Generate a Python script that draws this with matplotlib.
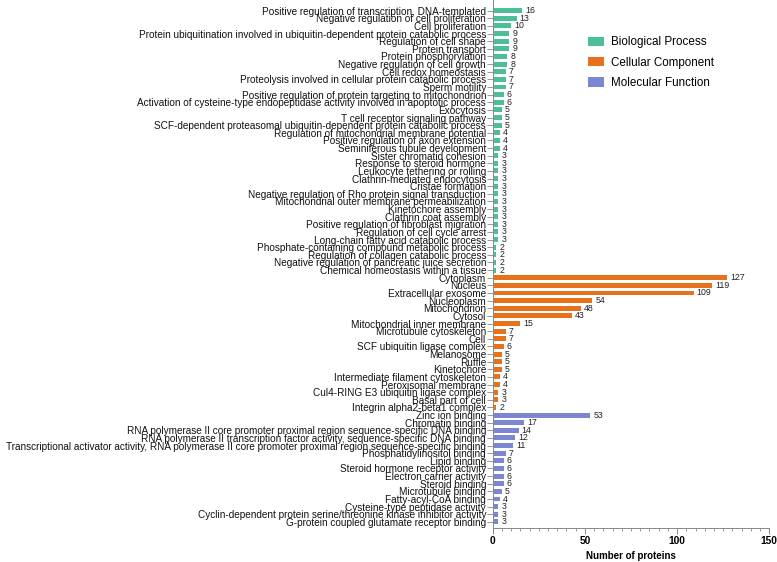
import matplotlib
matplotlib.use("Agg")
import matplotlib.pyplot as plt
from matplotlib.patches import Patch
from matplotlib.ticker import MultipleLocator

plt.rcParams['font.family'] = ['Liberation Sans', 'DejaVu Sans']

bp_terms = [
    "Positive regulation of transcription, DNA-templated",
    "Negative regulation of cell proliferation",
    "Cell proliferation",
    "Protein ubiquitination involved in ubiquitin-dependent protein catabolic process",
    "Regulation of cell shape",
    "Protein transport",
    "Protein phosphorylation",
    "Negative regulation of cell growth",
    "Cell redox homeostasis",
    "Proteolysis involved in cellular protein catabolic process",
    "Sperm motility",
    "Positive regulation of protein targeting to mitochondrion",
    "Activation of cysteine-type endopeptidase activity involved in apoptotic process",
    "Exocytosis",
    "T cell receptor signaling pathway",
    "SCF-dependent proteasomal ubiquitin-dependent protein catabolic process",
    "Regulation of mitochondrial membrane potential",
    "Positive regulation of axon extension",
    "Seminiferous tubule development",
    "Sister chromatid cohesion",
    "Response to steroid hormone",
    "Leukocyte tethering or rolling",
    "Clathrin-mediated endocytosis",
    "Cristae formation",
    "Negative regulation of Rho protein signal transduction",
    "Mitochondrial outer membrane permeabilization",
    "Kinetochore assembly",
    "Clathrin coat assembly",
    "Positive regulation of fibroblast migration",
    "Regulation of cell cycle arrest",
    "Long-chain fatty acid catabolic process",
    "Phosphate-containing compound metabolic process",
    "Regulation of collagen catabolic process",
    "Negative regulation of pancreatic juice secretion",
    "Chemical homeostasis within a tissue",
]
bp_counts = [16, 13, 10, 9, 9, 9, 8, 8, 7, 7, 7, 6, 6, 5, 5, 5, 4, 4, 4,
             3, 3, 3, 3, 3, 3, 3, 3, 3, 3, 3, 3, 2, 2, 2, 2]

cc_terms = [
    "Cytoplasm", "Nucleus", "Extracellular exosome", "Nucleoplasm",
    "Mitochondrion", "Cytosol", "Mitochondrial inner membrane",
    "Microtubule cytoskeleton", "Cell", "SCF ubiquitin ligase complex",
    "Melanosome", "Ruffle", "Kinetochore", "Intermediate filament cytoskeleton",
    "Peroxisomal membrane", "Cul4-RING E3 ubiquitin ligase complex",
    "Basal part of cell", "Integrin alpha2-beta1 complex",
]
cc_counts = [127, 119, 109, 54, 48, 43, 15, 7, 7, 6, 5, 5, 5, 4, 4, 3, 3, 2]

mf_terms = [
    "Zinc ion binding",
    "Chromatin binding",
    "RNA polymerase II core promoter proximal region sequence-specific DNA binding",
    "RNA polymerase II transcription factor activity, sequence-specific DNA binding",
    "Transcriptional activator activity, RNA polymerase II core promoter proximal region sequence-specific binding",
    "Phosphatidylinositol binding",
    "Lipid binding",
    "Steroid hormone receptor activity",
    "Electron carrier activity",
    "Steroid binding",
    "Microtubule binding",
    "Fatty-acyl-CoA binding",
    "Cysteine-type peptidase activity",
    "Cyclin-dependent protein serine/threonine kinase inhibitor activity",
    "G-protein coupled glutamate receptor binding",
]
mf_counts = [53, 17, 14, 12, 11, 7, 6, 6, 6, 6, 5, 4, 3, 3, 3]

group_names = ["Biological Process", "Cellular Component", "Molecular Function"]
group_colors = ["#4cbf96", "#e8711c", "#7c86d2"]

terms = bp_terms + cc_terms + mf_terms
counts = bp_counts + cc_counts + mf_counts
colors = ([group_colors[0]] * len(bp_terms) + [group_colors[1]] * len(cc_terms)
          + [group_colors[2]] * len(mf_terms))
n = len(terms)
ypos = list(range(n))

fig = plt.figure(figsize=(7.77, 5.62), dpi=100)
ax = fig.add_axes([492.7 / 777, 1 - 528 / 562, (769.3 - 492.7) / 777, 528 / 562])

ax.barh(ypos, counts, height=0.65, color=colors, edgecolor='none')
for y, c in zip(ypos, counts):
    ax.annotate(str(c), xy=(c, y), xytext=(2.2, 0), textcoords='offset points',
                va='center', ha='left', fontsize=6.3, color='#222222')

ax.set_ylim(67.8, -1.4)
ax.set_xlim(0, 150)
ax.set_yticks(ypos)
ax.set_yticklabels(terms, fontsize=7.22, color='#111111')
ax.tick_params(axis='y', length=4.5, width=0.6, color='#888888', pad=0.3)
ax.xaxis.set_major_locator(MultipleLocator(50))
ax.xaxis.set_minor_locator(MultipleLocator(5))
ax.tick_params(axis='x', which='major', length=4, width=0.7, color='#888888', pad=2)
ax.tick_params(axis='x', which='minor', length=2.2, width=0.6, color='#888888')
for lab in ax.get_xticklabels():
    lab.set_fontweight('bold')
    lab.set_fontsize(7.4)
ax.set_xlabel("Number of proteins", fontsize=7.0, fontweight='bold', labelpad=3.5)

for s in ['top', 'right']:
    ax.spines[s].set_visible(False)
for s in ['left', 'bottom']:
    ax.spines[s].set_color('#888888')
    ax.spines[s].set_linewidth(0.7)

handles = [Patch(facecolor=c, edgecolor='none', label=g) for g, c in zip(group_names, group_colors)]
fig.legend(handles=handles, loc='upper left', bbox_to_anchor=(577 / 777, 1 - 26 / 562),
           frameon=False, fontsize=8.4, handlelength=1.45, handleheight=0.9,
           handletextpad=0.6, labelspacing=0.7)

fig.savefig("out.png", dpi=100)
